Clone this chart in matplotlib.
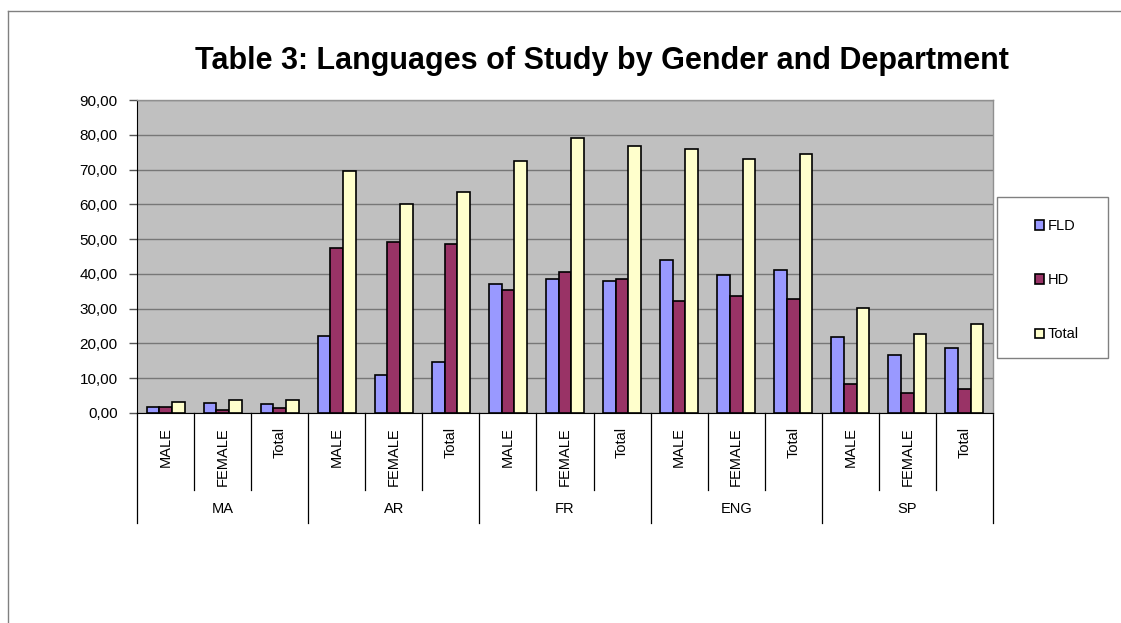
import numpy as np
import matplotlib
matplotlib.use('Agg')
import matplotlib.pyplot as plt
from matplotlib.lines import Line2D
from matplotlib.patches import Rectangle

plt.rcParams['font.family'] = ['Liberation Sans', 'DejaVu Sans']

# Departments and gender sub-categories
departments = ['MA', 'AR', 'FR', 'ENG', 'SP']
genders = ['MALE', 'FEMALE', 'Total']

# Percentages per department, in order MALE / FEMALE / Total
fld = [1.7, 2.9, 2.6,
       22.0, 10.8, 14.8,
       37.2, 38.5, 38.0,
       44.0, 39.7, 41.1,
       21.9, 16.7, 18.7]
hd = [1.7, 1.0, 1.4,
      47.4, 49.3, 48.6,
      35.5, 40.5, 38.5,
      32.1, 33.5, 32.9,
      8.4, 5.8, 6.9]
total = [3.3, 3.8, 3.6,
         69.5, 60.2, 63.6,
         72.6, 79.1, 76.7,
         76.0, 73.0, 74.4,
         30.3, 22.7, 25.6]

fig = plt.figure(figsize=(11.21, 6.23), dpi=100)
ax = fig.add_axes([137 / 1121, 210 / 623, 856 / 1121, 313 / 623])

n = len(fld)
x = np.arange(n)
w = 0.222
kw = dict(width=w, edgecolor='black', linewidth=1.2, zorder=3)
b1 = ax.bar(x - w, fld, color='#9999FF', label='FLD', **kw)
b2 = ax.bar(x, hd, color='#993366', label='HD', **kw)
b3 = ax.bar(x + w, total, color='#FFFFCC', label='Total', **kw)

ax.set_facecolor('#C0C0C0')
ax.set_xlim(-0.5, n - 0.5)
ax.set_ylim(0, 90)
ax.set_yticks(np.arange(0, 91, 10))
ax.set_yticklabels([f'{v:.2f}'.replace('.', ',') for v in np.arange(0, 91, 10)])
ax.yaxis.grid(True, color='#777777', linewidth=1.0, zorder=0)
ax.set_axisbelow(True)
ax.tick_params(axis='y', length=6, width=1, labelsize=11, pad=8, color='#555555')
ax.set_xticks([])

for s in ['top', 'right']:
    ax.spines[s].set_color('#909090')
    ax.spines[s].set_linewidth(1)
ax.spines['left'].set_color('black')
ax.spines['bottom'].set_color('black')

# Two-level category axis below the plot
tr = ax.get_xaxis_transform()
for i in range(n + 1):
    xs = i - 0.5
    depth = -0.351 if i % 3 == 0 else -0.246
    ax.add_line(Line2D([xs, xs], [0, depth], transform=tr, color='black',
                       linewidth=0.9, clip_on=False))
for i in range(n):
    ax.text(i, -0.045, genders[i % 3], transform=tr, rotation=90,
            ha='center', va='top', fontsize=10.5)
for j, d in enumerate(departments):
    ax.text(3 * j + 1, -0.307, d, transform=tr, ha='center', va='center',
            fontsize=10.5)

fig.text(602 / 1121, 1 - 61 / 623, 'Table 3: Languages of Study by Gender and Department',
         ha='center', va='center', fontsize=22, fontweight='bold')

# Legend with its own frame
fig.patches.append(Rectangle((997 / 1121, 1 - 358 / 623), 111 / 1121, 161 / 623,
                             transform=fig.transFigure, fill=False,
                             edgecolor='#808080', linewidth=1))
fig.legend(handles=[b1, b2, b3], loc='upper left',
           bbox_to_anchor=(1022 / 1121, 1 - 206 / 623), frameon=False,
           fontsize=10.5, handlelength=0.6, handleheight=0.6,
           handletextpad=0.25, labelspacing=2.75)

# Outer chart frame
fig.add_artist(Line2D([8 / 1121, 8 / 1121], [0, 1 - 11 / 623],
                      transform=fig.transFigure, color='#808080', linewidth=1))
fig.add_artist(Line2D([8 / 1121, 1], [1 - 11 / 623, 1 - 11 / 623],
                      transform=fig.transFigure, color='#808080', linewidth=1))

fig.savefig('out.png', dpi=100)
